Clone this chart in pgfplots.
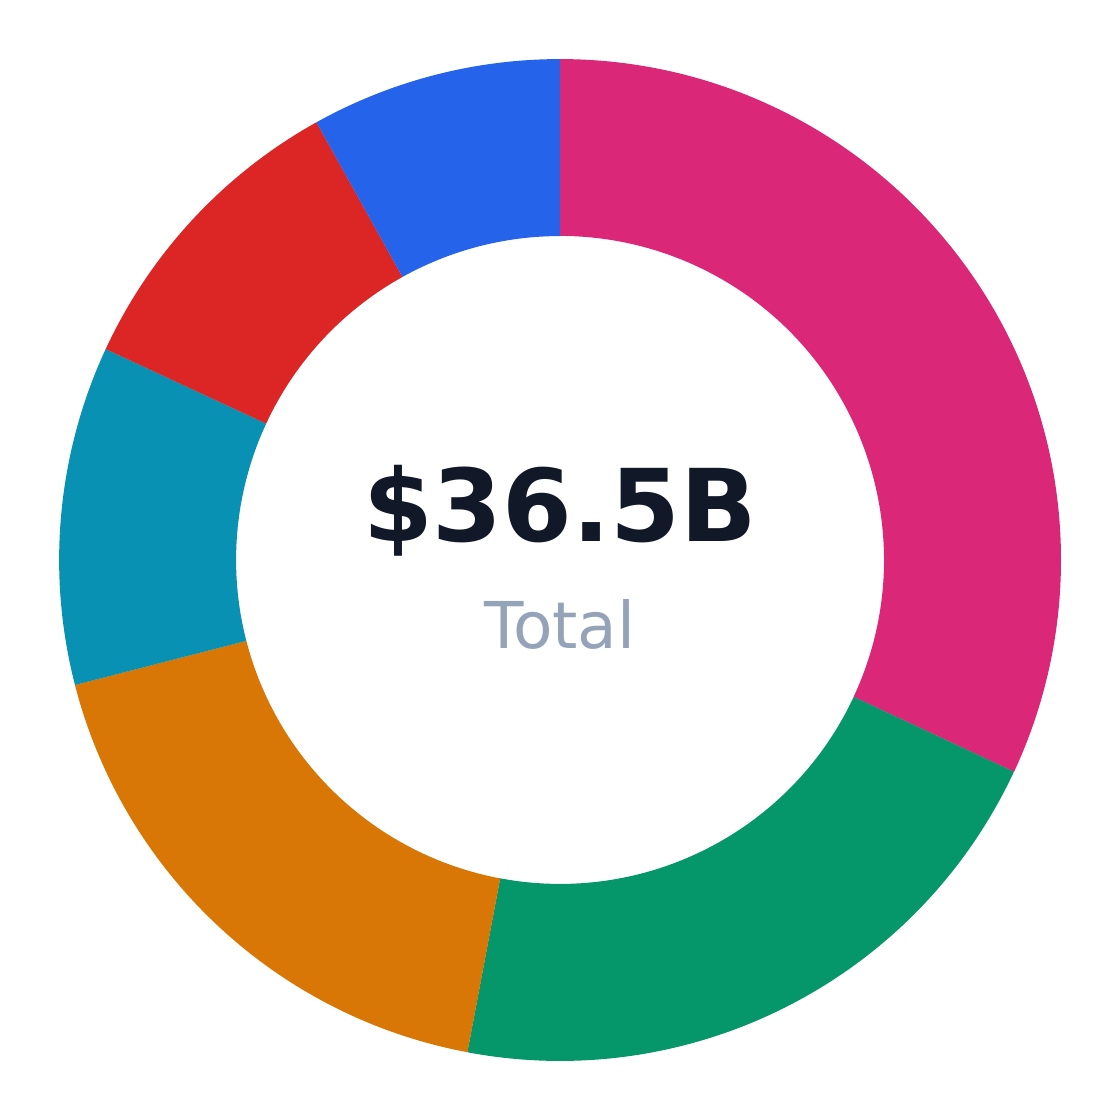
\documentclass[border=0pt]{standalone}
\usepackage{pgfplots}
\pgfplotsset{compat=1.18}
\usepackage{pgfplotstable}
\usepackage{fontspec}
\setmainfont{DejaVu Sans}

\definecolor{pinkc}{HTML}{DB2777}
\definecolor{greenc}{HTML}{059669}
\definecolor{orangec}{HTML}{D97706}
\definecolor{tealc}{HTML}{0891B2}
\definecolor{redc}{HTML}{DC2626}
\definecolor{bluec}{HTML}{2563EB}
\definecolor{titlec}{HTML}{111827}
\definecolor{subc}{HTML}{94A3B8}

% slice values in billions, clockwise from 12 o'clock
\pgfplotstableread{
value col
11.66 pinkc
7.67  greenc
6.58  orangec
3.99  tealc
3.65  redc
2.95  bluec
}\slices

\begin{document}
\begin{tikzpicture}
\pgfplotstablegetrowsof{\slices}
\pgfmathtruncatemacro\lastrow{\pgfplotsretval-1}
\begin{axis}[
    width=10cm, height=10cm,
    scale only axis,
    hide axis,
    xmin=-1.118, xmax=1.118,
    ymin=-1.118, ymax=1.118,
]
\path (axis cs:-1.118,-1.118) rectangle (axis cs:1.118,1.118);
\def\total{36.5}
\def\cum{0}
\def\rout{4.473cm}
\def\rin{2.893cm}
\pgfplotsforeachungrouped \i in {0,...,\lastrow}{
    \pgfplotstablegetelem{\i}{value}\of\slices \let\sv\pgfplotsretval
    \pgfplotstablegetelem{\i}{col}\of\slices \let\scol\pgfplotsretval
    \pgfmathsetmacro\angs{90-360*\cum/\total}
    \pgfmathsetmacro\cum{\cum+\sv}
    \pgfmathsetmacro\ange{90-360*\cum/\total}
    \edef\slicecmd{\noexpand\fill[\scol]
        (axis cs:{cos(\angs)},{sin(\angs)})
        arc[start angle=\angs, end angle=\ange, radius=\rout]
        -- (axis cs:{0.6467*cos(\ange)},{0.6467*sin(\ange)})
        arc[start angle=\ange, end angle=\angs, radius=\rin] -- cycle;}
    \slicecmd
}
\node[font=\fontsize{25.5}{30}\selectfont\bfseries, text=titlec]
    at (axis cs:0,0.098) {\$36.5B};
\node[font=\fontsize{16.4}{20}\selectfont, text=subc]
    at (axis cs:0,-0.128) {Total};
\end{axis}
\end{tikzpicture}
\end{document}
